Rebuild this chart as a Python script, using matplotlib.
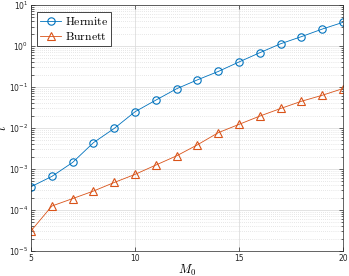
import numpy as np
import matplotlib.pyplot as plt
from matplotlib.ticker import LogLocator, NullFormatter, FixedLocator

plt.rcParams['mathtext.fontset'] = 'cm'
plt.rcParams['font.size'] = 6

M0 = [5, 6, 7, 8, 9, 10, 11, 12, 13, 14, 15, 16, 17, 18, 19, 20]
t_hermite = [3.7e-4, 6.6e-4, 1.45e-3, 4.4e-3, 9.8e-3, 0.025, 0.048, 0.091,
             0.15, 0.24, 0.41, 0.69, 1.14, 1.7, 2.6, 3.8]
t_burnett = [3.1e-5, 1.25e-4, 1.9e-4, 2.9e-4, 4.7e-4, 7.4e-4, 1.25e-3, 2.1e-3,
             3.9e-3, 7.7e-3, 0.0123, 0.0196, 0.030, 0.045, 0.063, 0.092]

blue = '#0072BD'
orange = '#D95319'

fig = plt.figure(figsize=(3.49, 2.76), dpi=100)
ax = fig.add_axes([0.089, 0.0906, 0.894, 0.891])

ax.semilogy(M0, t_hermite, '-o', color=blue, lw=0.6, markersize=5.3,
            markerfacecolor='none', markeredgewidth=0.8, label=r'$\mathrm{Hermite}$')
ax.semilogy(M0, t_burnett, '-^', color=orange, lw=0.6, markersize=5.5,
            markerfacecolor='none', markeredgewidth=0.8, label=r'$\mathrm{Burnett}$')

ax.set_xlim(5, 20)
ax.set_ylim(1e-5, 1e1)
ax.xaxis.set_major_locator(FixedLocator([5, 10, 15, 20]))
ax.yaxis.set_major_locator(LogLocator(base=10, numticks=10))
ax.yaxis.set_minor_locator(LogLocator(base=10, subs=np.arange(2, 10), numticks=10))
ax.yaxis.set_minor_formatter(NullFormatter())

ax.grid(True, which='major', color='#dedede', linewidth=0.6, linestyle='-')
ax.grid(True, which='minor', axis='y', color='#d0d0d0', linewidth=0.5, linestyle=(0, (1, 2)))
ax.set_axisbelow(True)

ax.tick_params(which='both', direction='in', top=True, right=True,
               colors='#262626', labelsize=5.5, width=0.5, pad=2)
ax.tick_params(which='major', length=3)
ax.tick_params(which='minor', length=1.8)
for s in ax.spines.values():
    s.set_color('#262626')
    s.set_linewidth(0.5)

ax.set_xlabel('$M_0$', fontsize=9, labelpad=0)
ax.set_ylabel('$t$', fontsize=9, labelpad=0)

leg = ax.legend(loc='upper left', prop={'size': 8.5},
                fancybox=False, edgecolor='#262626', framealpha=1,
                handlelength=1.8, borderpad=0.25, labelspacing=0.2,
                handletextpad=0.3, borderaxespad=0,
                bbox_to_anchor=(0.019, 0.972))
leg.get_frame().set_linewidth(0.6)

fig.savefig('out.png', dpi=100)
